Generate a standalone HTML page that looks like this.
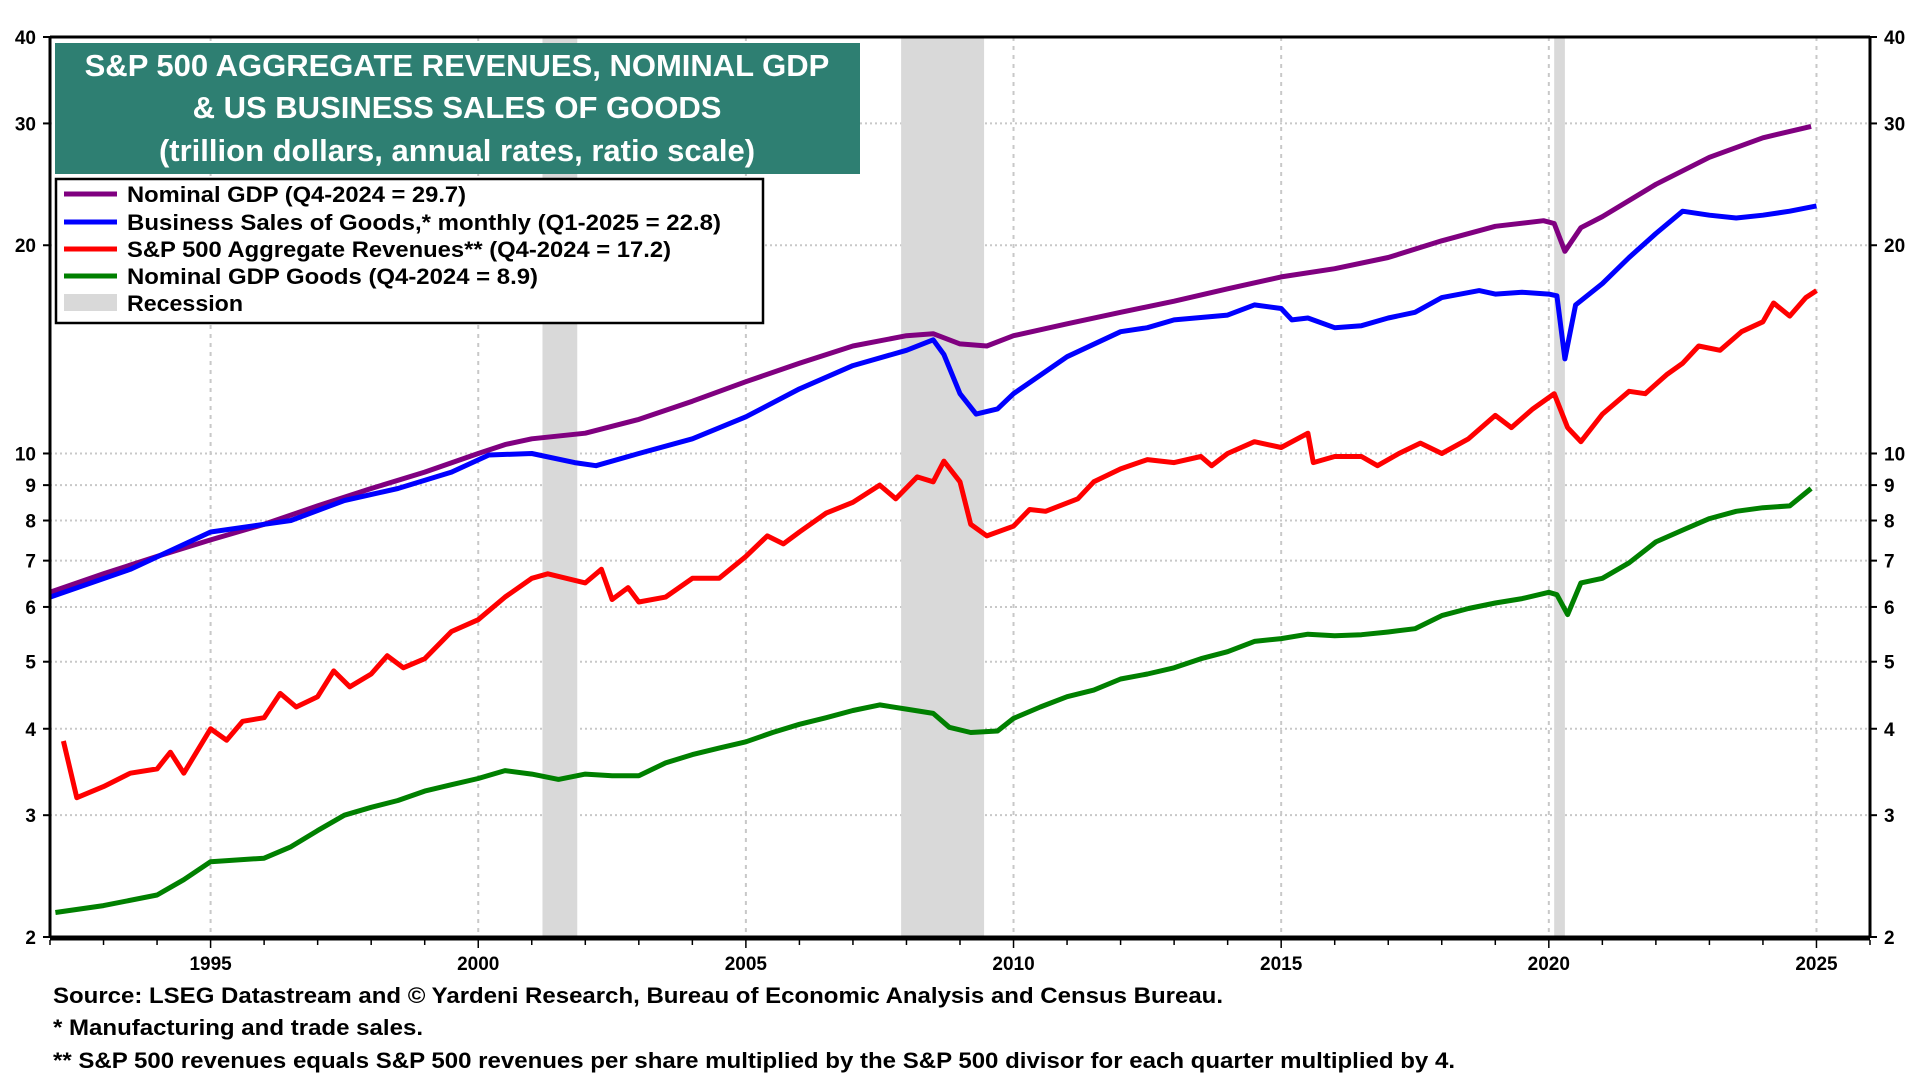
<!DOCTYPE html>
<html><head><meta charset="utf-8"><style>
body{margin:0;background:#fff;font-family:"Liberation Sans",Arial,sans-serif;}
svg{display:block}
</style></head><body>
<svg id="chart" width="1920" height="1080" xmlns="http://www.w3.org/2000/svg" font-family="Liberation Sans, Arial, sans-serif">
<g id="grid"></g>
<g id="rec"></g>
<g id="series"></g>
<g id="axes"></g>
<g>
<rect x="55" y="43" width="805" height="131" fill="#2e7f72"/>
<text x="457" y="76" fill="#fff" font-size="31" font-weight="bold" text-anchor="middle">S&amp;P 500 AGGREGATE REVENUES, NOMINAL GDP</text>
<text x="457" y="118" fill="#fff" font-size="31" font-weight="bold" text-anchor="middle">&amp; US BUSINESS SALES OF GOODS</text>
<text x="457" y="161" fill="#fff" font-size="31" font-weight="bold" text-anchor="middle">(trillion dollars, annual rates, ratio scale)</text>
</g>
<g>
<rect x="56" y="179" width="707" height="144" fill="#fff" stroke="#000" stroke-width="2.5"/>
<g><line x1="64" y1="194" x2="117" y2="194" stroke="#800080" stroke-width="5"/><text x="127" y="202" font-size="22" font-weight="bold" textLength="339" lengthAdjust="spacingAndGlyphs">Nominal GDP (Q4-2024 = 29.7)</text></g>
<g><line x1="64" y1="222" x2="117" y2="222" stroke="#0000ff" stroke-width="5"/><text x="127" y="230" font-size="22" font-weight="bold" textLength="594" lengthAdjust="spacingAndGlyphs">Business Sales of Goods,* monthly (Q1-2025 = 22.8)</text></g>
<g><line x1="64" y1="249" x2="117" y2="249" stroke="#ff0000" stroke-width="5"/><text x="127" y="257" font-size="22" font-weight="bold" textLength="544" lengthAdjust="spacingAndGlyphs">S&amp;P 500 Aggregate Revenues** (Q4-2024 = 17.2)</text></g>
<g><line x1="64" y1="276" x2="117" y2="276" stroke="#008000" stroke-width="5"/><text x="127" y="284" font-size="22" font-weight="bold" textLength="411" lengthAdjust="spacingAndGlyphs">Nominal GDP Goods (Q4-2024 = 8.9)</text></g>
<g><rect x="64" y="294" width="53" height="17" fill="#d9d9d9"/><text x="127" y="311" font-size="22" font-weight="bold" textLength="116" lengthAdjust="spacingAndGlyphs">Recession</text></g>
</g>
<g font-size="22" font-weight="bold">
<text x="53" y="1003" textLength="1170" lengthAdjust="spacingAndGlyphs">Source: LSEG Datastream and © Yardeni Research, Bureau of Economic Analysis and Census Bureau.</text>
<text x="53" y="1035" textLength="370" lengthAdjust="spacingAndGlyphs">* Manufacturing and trade sales.</text>
<text x="53" y="1068" textLength="1402" lengthAdjust="spacingAndGlyphs">** S&amp;P 500 revenues equals S&amp;P 500 revenues per share multiplied by the S&amp;P 500 divisor for each quarter multiplied by 4.</text>
</g>
</svg>
<script>
const yTicks=[2,3,4,5,6,7,8,9,10,20,30,40];
const xTicks=[1995,2000,2005,2010,2015,2020,2025];
const recStart=[2001.2,2007.9,2020.1];
const recEnd=[2001.85,2009.45,2020.3];
const gdpX=[1992,1993,1994,1995,1996,1997,1998,1999,2000,2000.5,2001,2002,2003,2004,2005,2006,2007,2008,2008.5,2009,2009.5,2010,2011,2012,2013,2014,2015,2016,2017,2018,2019,2019.9,2020.1,2020.3,2020.6,2021,2022,2023,2024,2024.9];
const gdpY=[6.3,6.7,7.1,7.5,7.9,8.4,8.9,9.4,10.0,10.3,10.5,10.7,11.2,11.9,12.7,13.5,14.3,14.8,14.9,14.4,14.3,14.8,15.4,16.0,16.6,17.3,18.0,18.5,19.2,20.3,21.3,21.7,21.5,19.6,21.2,22.0,24.5,26.8,28.6,29.7];
const salesX=[1992,1993.5,1995,1996.5,1997.5,1998.5,1999.5,2000.2,2001,2001.8,2002.2,2003,2004,2005,2006,2007,2008,2008.5,2008.7,2009,2009.3,2009.7,2010,2011,2012,2012.5,2013,2014,2014.5,2015,2015.2,2015.5,2016,2016.5,2017,2017.5,2018,2018.7,2019,2019.5,2020,2020.15,2020.3,2020.5,2021,2021.5,2022,2022.5,2023,2023.5,2024,2024.5,2025];
const salesY=[6.2,6.8,7.7,8.0,8.55,8.9,9.4,9.95,10.0,9.7,9.6,10.0,10.5,11.3,12.4,13.4,14.1,14.6,13.9,12.2,11.4,11.6,12.2,13.8,15.0,15.2,15.6,15.85,16.4,16.2,15.6,15.7,15.2,15.3,15.7,16.0,16.8,17.2,17.0,17.1,17.0,16.9,13.7,16.4,17.6,19.2,20.8,22.4,22.1,21.9,22.1,22.4,22.8];
const revX=[1992.25,1992.5,1993,1993.5,1994,1994.25,1994.5,1995,1995.3,1995.6,1996,1996.3,1996.6,1997,1997.3,1997.6,1998,1998.3,1998.6,1999,1999.5,2000,2000.5,2001,2001.3,2002,2002.3,2002.5,2002.8,2003,2003.5,2004,2004.5,2005,2005.4,2005.7,2006,2006.5,2007,2007.5,2007.8,2008.2,2008.5,2008.7,2009,2009.2,2009.5,2010,2010.3,2010.6,2011.2,2011.5,2012,2012.5,2013,2013.5,2013.7,2014,2014.5,2015,2015.5,2015.6,2016,2016.5,2016.8,2017.2,2017.6,2018,2018.5,2019,2019.3,2019.7,2020.1,2020.35,2020.6,2021,2021.5,2021.8,2022.2,2022.5,2022.8,2023.2,2023.6,2024,2024.2,2024.5,2024.8,2025];
const revY=[3.84,3.18,3.3,3.45,3.5,3.7,3.45,4.0,3.85,4.1,4.15,4.5,4.3,4.45,4.85,4.6,4.8,5.1,4.9,5.05,5.53,5.75,6.2,6.6,6.7,6.5,6.8,6.15,6.4,6.1,6.2,6.6,6.6,7.1,7.6,7.4,7.7,8.2,8.5,9.0,8.6,9.25,9.1,9.75,9.1,7.9,7.6,7.85,8.3,8.25,8.6,9.1,9.5,9.8,9.7,9.9,9.6,10.0,10.4,10.2,10.7,9.7,9.9,9.9,9.6,10.0,10.35,10.0,10.5,11.35,10.9,11.6,12.2,10.9,10.4,11.4,12.3,12.2,13.0,13.5,14.3,14.1,15.0,15.5,16.5,15.8,16.8,17.2];
const goodsX=[1992.1,1993,1994,1994.5,1995,1996,1996.5,1997,1997.5,1998,1998.5,1999,1999.5,2000,2000.5,2001,2001.5,2002,2002.5,2003,2003.5,2004,2004.5,2005,2005.5,2006,2006.5,2007,2007.5,2008,2008.5,2008.8,2009.2,2009.7,2010,2010.5,2011,2011.5,2012,2012.5,2013,2013.5,2014,2014.5,2015,2015.5,2016,2016.5,2017,2017.5,2018,2018.5,2019,2019.5,2020,2020.15,2020.35,2020.6,2021,2021.5,2022,2022.5,2023,2023.5,2024,2024.5,2024.9];
const goodsY=[2.17,2.22,2.3,2.42,2.57,2.6,2.7,2.85,3.0,3.08,3.15,3.25,3.32,3.39,3.48,3.44,3.38,3.44,3.42,3.42,3.57,3.67,3.75,3.83,3.95,4.06,4.15,4.25,4.33,4.27,4.21,4.02,3.95,3.97,4.14,4.3,4.45,4.55,4.72,4.8,4.9,5.05,5.17,5.35,5.4,5.48,5.45,5.47,5.52,5.58,5.83,5.97,6.08,6.17,6.3,6.25,5.85,6.5,6.6,6.95,7.45,7.75,8.05,8.25,8.35,8.4,8.9];

const L=50,R=1870,T=37,B=937,X0=1992,X1=2026;
const NS='http://www.w3.org/2000/svg';
function xS(v){return L+(v-X0)/(X1-X0)*(R-L);}
function yS(v){return T+Math.log(40/v)/Math.log(20)*(B-T);}
function mk(tag,attrs,parent){const e=document.createElementNS(NS,tag);for(const k in attrs)e.setAttribute(k,attrs[k]);parent.appendChild(e);return e;}
const grid=document.getElementById('grid'),rec=document.getElementById('rec'),ser=document.getElementById('series'),axes=document.getElementById('axes');
yTicks.forEach(v=>{if(v===2||v===40)return;
 const g=mk('line',{x1:L,x2:R,y1:yS(v),y2:yS(v),stroke:'#c8c8c8','stroke-width':2,'stroke-dasharray':'2,3'},grid);
 
 });
xTicks.forEach(v=>{const g=mk('line',{x1:xS(v),x2:xS(v),y1:T,y2:B,stroke:'#c8c8c8','stroke-width':2,'stroke-dasharray':'4,5'},grid);
 
 });
recStart.forEach((s,i)=>{const r=mk('rect',{x:xS(s),y:T,width:xS(recEnd[i])-xS(s),height:B-T,fill:'#d9d9d9'},rec);
 
 });
function line(xs,ys,color,name){const d=xs.map((x,i)=>(i?'L':'M')+xS(x).toFixed(1)+','+yS(ys[i]).toFixed(1)).join('');
 const p=mk('path',{d:d,fill:'none',stroke:color,'stroke-width':5,'stroke-linejoin':'round'},ser);
 
 }
line(goodsX,goodsY,'#008000','gdp-goods-line');
line(revX,revY,'#ff0000','sp500-revenues-line');
line(gdpX,gdpY,'#800080','nominal-gdp-line');
line(salesX,salesY,'#0000ff','business-sales-line');
mk('line',{x1:L,x2:R,y1:T,y2:T,stroke:'#000','stroke-width':3},axes);
mk('line',{x1:L,x2:R,y1:B+1,y2:B+1,stroke:'#000','stroke-width':5},axes);
mk('line',{x1:L,x2:L,y1:T,y2:B,stroke:'#000','stroke-width':3},axes);
mk('line',{x1:R,x2:R,y1:T,y2:B,stroke:'#000','stroke-width':3},axes);
yTicks.forEach(v=>{const y=yS(v);
 mk('line',{x1:L-7,x2:L,y1:y,y2:y,stroke:'#000','stroke-width':2},axes);
 mk('line',{x1:R,x2:R+7,y1:y,y2:y,stroke:'#000','stroke-width':2},axes);
 const t1=mk('text',{x:L-14,y:y+7,'font-size':19,'font-weight':'bold','text-anchor':'end'},axes);t1.textContent=v;
 
 
 const t2=mk('text',{x:R+14,y:y+7,'font-size':19,'font-weight':'bold','text-anchor':'start'},axes);t2.textContent=v;
 
 });
for(let yr=1992;yr<=2026;yr++){const x=xS(yr);mk('line',{x1:x,x2:x,y1:B+3,y2:B+(yr%5===0?11:8),stroke:'#000','stroke-width':1.5},axes);}
xTicks.forEach(v=>{const t=mk('text',{x:xS(v),y:B+33,'font-size':19,'font-weight':'bold','text-anchor':'middle'},axes);t.textContent=v;
 
 });
</script>
</body></html>
